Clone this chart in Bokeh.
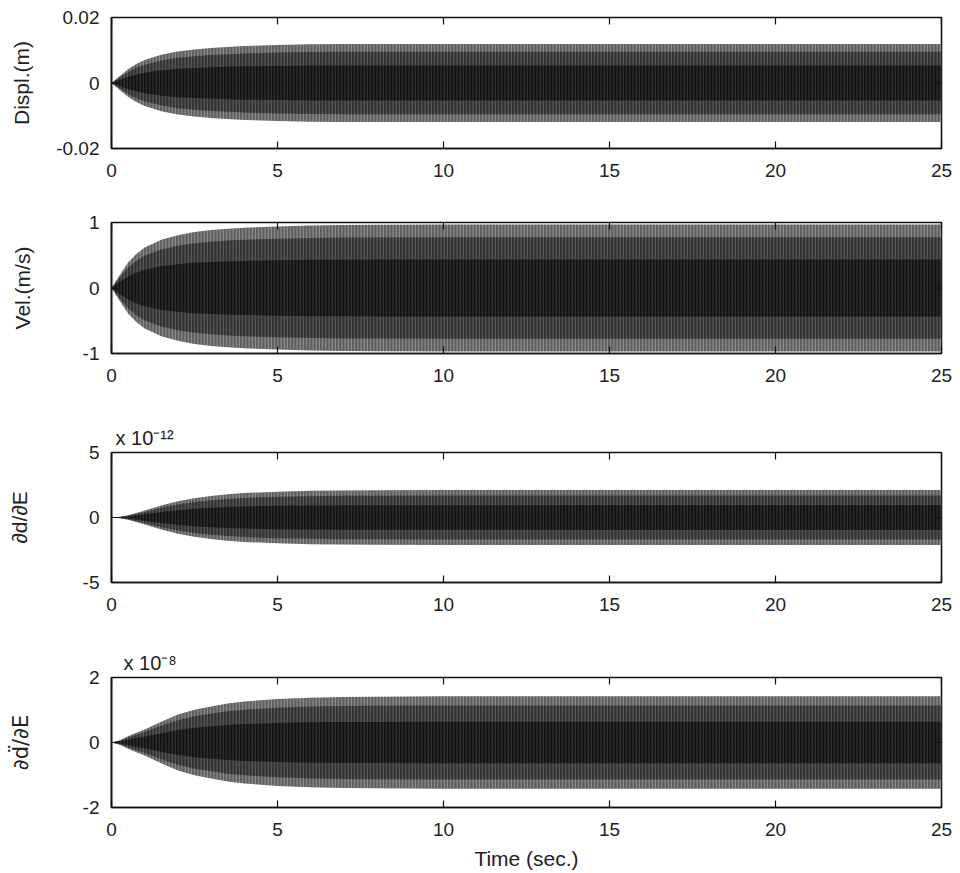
import math
from bokeh.plotting import figure
from bokeh.models import ColumnDataSource, FixedTicker, Range1d
from bokeh.layouts import column
from bokeh.embed import file_html
from bokeh.resources import INLINE

# ---- data (amplitude envelope of the response) ----
time_s = [0, 0.25, 0.5, 0.75, 1, 1.5, 2, 2.5, 3, 3.5, 4, 5, 6, 7, 8, 10, 15, 20, 25]
displ_env_m = [0, 0.0021, 0.0042, 0.0058, 0.0070, 0.0086, 0.0096, 0.0102, 0.0107,
               0.0110, 0.0113, 0.0116, 0.0118, 0.0119, 0.0119, 0.0119, 0.0119, 0.0119, 0.0119]
vel_env_ms = [0, 0.20, 0.39, 0.52, 0.62, 0.735, 0.805, 0.855, 0.885, 0.905, 0.92,
              0.94, 0.955, 0.962, 0.966, 0.968, 0.97, 0.97, 0.97]
dd_dE_env_e12 = [0, 0.05, 0.17, 0.35, 0.54, 0.93, 1.25, 1.48, 1.66, 1.79, 1.88,
                 1.99, 2.05, 2.08, 2.10, 2.11, 2.12, 2.12, 2.12]
acc_dE_env_e8 = [0, 0.07, 0.19, 0.30, 0.40, 0.64, 0.86, 1.01, 1.11, 1.20, 1.26,
                 1.34, 1.38, 1.40, 1.41, 1.42, 1.42, 1.42, 1.42]

x_ticks = [0, 5, 10, 15, 20, 25]
panel_labels = ["Displ.(m)", "Vel.(m/s)", "\u2202d/\u2202E", "\u2202d\u0308/\u2202E"]
y_tick_sets = [[-0.02, 0, 0.02], [-1, 0, 1], [-5, 0, 5], [-2, 0, 2]]
y_tick_texts = [["-0.02", "0", "0.02"], ["-1", "0", "1"], ["-5", "0", "5"], ["-2", "0", "2"]]
exponent_texts = ["", "", "x 10\u207b\u00b9\u00b2", "x 10\u207b\u2078"]

FONT = "Liberation Sans"
TXT = "#222222"
LINE = "#111111"


def make_panel(idx, env, height, top, bottom, label_standoff, xlabel=None,
               exp_offset=4, label_font=FONT):
    ticks = y_tick_sets[idx]
    lim = ticks[-1]
    p = figure(width=960, height=height, x_range=Range1d(x_ticks[0], x_ticks[-1]),
               y_range=Range1d(-lim, lim), output_backend="svg",
               toolbar_location=None, min_border_left=111, min_border_right=19,
               min_border_top=top, min_border_bottom=bottom)
    p.grid.visible = False
    p.outline_line_color = LINE
    p.outline_line_width = 1.6
    p.background_fill_color = "white"
    p.border_fill_color = "white"

    src = ColumnDataSource(dict(t=time_s, hi=env, lo=[-v for v in env],
                                hi2=[0.8 * v for v in env], lo2=[-0.8 * v for v in env],
                                hi3=[0.45 * v for v in env], lo3=[-0.45 * v for v in env]))
    p.varea(x="t", y1="lo", y2="hi", source=src, fill_color="#5e5e5e",
            hatch_pattern="vertical_line", hatch_color="white", hatch_alpha=0.5,
            hatch_scale=3.2, hatch_weight=0.7)
    p.varea(x="t", y1="lo2", y2="hi2", source=src, fill_color="#333333",
            hatch_pattern="vertical_line", hatch_color="#eeeeee", hatch_alpha=0.4,
            hatch_scale=3.2, hatch_weight=0.6)
    p.varea(x="t", y1="lo3", y2="hi3", source=src, fill_color="#151515",
            hatch_pattern="vertical_line", hatch_color="#bbbbbb", hatch_alpha=0.3,
            hatch_scale=3.2, hatch_weight=0.6)

    # mirrored inward tick marks on the top and right edges of the box
    p.scatter(x=x_ticks, y=[lim] * len(x_ticks), marker="dash", size=14,
              angle=math.pi / 2, line_color=LINE, line_width=1.2)
    p.scatter(x=[x_ticks[-1]] * len(ticks), y=ticks, marker="dash", size=14,
              line_color=LINE, line_width=1.2)

    xa = p.xaxis[0]
    xa.ticker = FixedTicker(ticks=x_ticks)
    xa.major_label_overrides = {v: str(v) for v in x_ticks}
    ya = p.yaxis[0]
    ya.ticker = FixedTicker(ticks=ticks)
    ya.major_label_overrides = dict(zip(ticks, y_tick_texts[idx]))
    for ax in (xa, ya):
        ax.major_tick_in = 7
        ax.major_tick_out = 0
        ax.minor_tick_line_color = None
        ax.axis_line_color = LINE
        ax.axis_line_width = 1.6
        ax.major_tick_line_color = LINE
        ax.major_tick_line_width = 1.2
        ax.major_label_text_font = FONT
        ax.major_label_text_font_size = "19px"
        ax.major_label_text_color = TXT
        ax.axis_label_text_font = FONT
        ax.axis_label_text_font_size = "21px"
        ax.axis_label_text_font_style = "normal"
        ax.axis_label_text_color = TXT
    xa.major_label_standoff = 15
    ya.major_label_standoff = 12
    ya.axis_label = panel_labels[idx]
    ya.axis_label_standoff = label_standoff
    ya.axis_label_text_font = label_font
    if xlabel:
        xa.axis_label = xlabel
        xa.axis_label_standoff = 8

    if exponent_texts[idx]:
        p.title.text = exponent_texts[idx]
        p.title.align = "left"
        p.title.offset = exp_offset
        p.title.standoff = 8
        p.title.text_font = FONT
        p.title.text_font_size = "20px"
        p.title.text_font_style = "normal"
        p.title.text_color = TXT
    return p


p1 = make_panel(0, displ_env_m, 205, 17, 57, 20)
p2 = make_panel(1, vel_env_ms, 215, 17, 67, 46)
p3 = make_panel(2, dd_dE_env_e12, 225, 31, 63, 49, exp_offset=4)
p4 = make_panel(3, acc_dE_env_e8, 228, 31, 66, 47, xlabel="Time (sec.)",
                exp_offset=12, label_font="DejaVu Sans")

layout = column(p1, p2, p3, p4, spacing=0)
open("out.html", "w").write(file_html(layout, INLINE))
